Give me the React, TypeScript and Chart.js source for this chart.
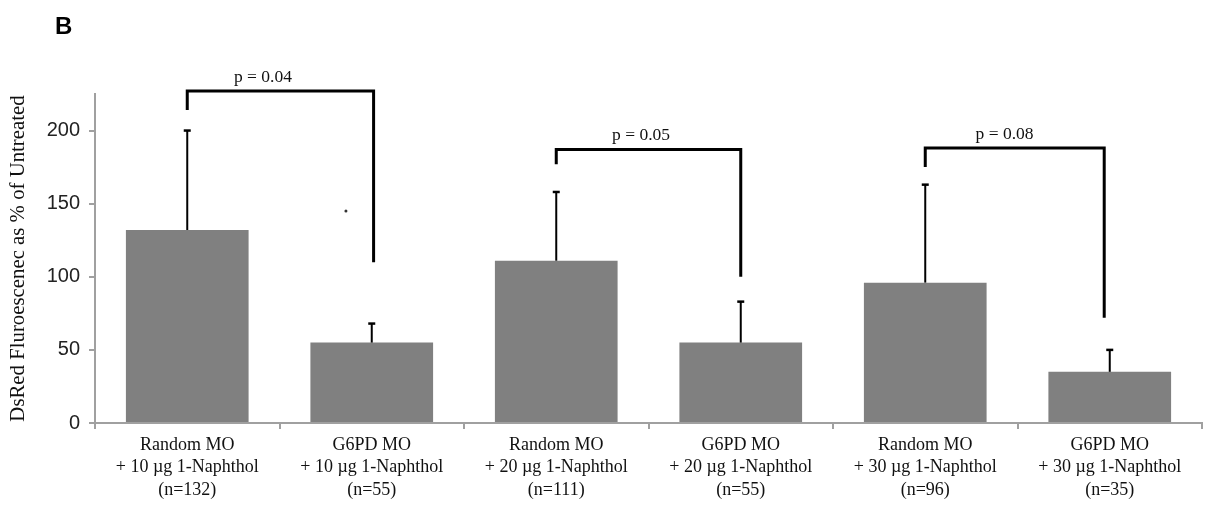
import React, { useEffect, useRef } from 'react';
import { Chart, registerables } from 'chart.js';

Chart.register(...registerables);

// ---- data ----
const categories: string[][] = [
  ['Random MO', '+ 10 µg 1-Naphthol', '(n=132)'],
  ['G6PD MO', '+ 10 µg 1-Naphthol', '(n=55)'],
  ['Random MO', '+ 20 µg 1-Naphthol', '(n=111)'],
  ['G6PD MO', '+ 20 µg 1-Naphthol', '(n=55)'],
  ['Random MO', '+ 30 µg 1-Naphthol', '(n=96)'],
  ['G6PD MO', '+ 30 µg 1-Naphthol', '(n=35)'],
];
const means = [132, 55, 111, 55, 96, 35];
const errorsUp = [68, 13, 47, 28, 67, 15];

const yTickValues = [0, 50, 100, 150, 200];
const yMax = 225;

const bracketFrom = [0, 2, 4];
const bracketTo = [1.01, 3, 4.97];
const bracketTop = [227, 187, 188];
const bracketLeftEnd = [214, 177, 175];
const bracketRightEnd = [110, 100, 72];
const bracketLabels = ['p = 0.04', 'p = 0.05', 'p = 0.08'];
const bracketLabelPos = [0.41, 2.46, 4.43];

const strayPoints = [{ x: 0.86, y: 145 }];

const panelLabel = 'B';
const yTitle = 'DsRed Fluroescenec as % of Untreated';

export default function App() {
  const canvasRef = useRef<HTMLCanvasElement | null>(null);

  useEffect(() => {
    const canvas = canvasRef.current;
    if (!canvas) return;

    const annotations = {
      id: 'annotations',
      afterDatasetsDraw(chart: any) {
        const { ctx, scales } = chart;
        const xs = scales.x;
        const ys = scales.y;
        ctx.save();
        // error bars (upper only)
        ctx.strokeStyle = '#000';
        ctx.lineCap = 'butt';
        means.forEach((m, i) => {
          const x = xs.getPixelForValue(i);
          const yb = ys.getPixelForValue(m);
          const yt = ys.getPixelForValue(m + errorsUp[i]);
          ctx.lineWidth = 2;
          ctx.beginPath();
          ctx.moveTo(x, yb);
          ctx.lineTo(x, yt);
          ctx.stroke();
          ctx.lineWidth = 2.5;
          ctx.beginPath();
          ctx.moveTo(x - 3.5, yt);
          ctx.lineTo(x + 3.5, yt);
          ctx.stroke();
        });
        // brackets
        ctx.lineWidth = 3;
        ctx.lineJoin = 'miter';
        bracketFrom.forEach((f, i) => {
          const x1 = xs.getPixelForValue(f);
          const x2 = xs.getPixelForValue(bracketTo[i]);
          const yt = ys.getPixelForValue(bracketTop[i]);
          const yl = ys.getPixelForValue(bracketLeftEnd[i]);
          const yr = ys.getPixelForValue(bracketRightEnd[i]);
          ctx.beginPath();
          ctx.moveTo(x1, yl);
          ctx.lineTo(x1, yt);
          ctx.lineTo(x2, yt);
          ctx.lineTo(x2, yr);
          ctx.stroke();
          ctx.fillStyle = '#111';
          ctx.font = '17.5px "Liberation Serif", "Times New Roman", serif';
          ctx.textAlign = 'center';
          ctx.textBaseline = 'bottom';
          ctx.fillText(bracketLabels[i], xs.getPixelForValue(bracketLabelPos[i]), yt - 5);
        });
        // stray point
        ctx.fillStyle = '#333';
        strayPoints.forEach((p) => {
          ctx.beginPath();
          ctx.arc(xs.getPixelForValue(p.x), ys.getPixelForValue(p.y), 1.5, 0, Math.PI * 2);
          ctx.fill();
        });
        // panel label
        ctx.fillStyle = '#000';
        ctx.font = 'bold 24px "Liberation Sans", Arial, sans-serif';
        ctx.textAlign = 'left';
        ctx.textBaseline = 'alphabetic';
        ctx.fillText(panelLabel, 55, 34);
        ctx.restore();
      },
    };

    const chart = new Chart(canvas, {
      type: 'bar',
      data: {
        labels: categories,
        datasets: [
          {
            data: means,
            backgroundColor: '#808080',
            borderWidth: 0,
            categoryPercentage: 1,
            barPercentage: 0.665,
          },
        ],
      },
      options: {
        animation: false,
        responsive: true,
        maintainAspectRatio: false,
        layout: { padding: { top: 94, right: 3, left: 0, bottom: 0 } },
        plugins: {
          legend: { display: false },
          tooltip: { enabled: false },
        },
        scales: {
          x: {
            offset: true,
            grid: {
              display: true,
              offset: true,
              drawOnChartArea: false,
              drawTicks: true,
              tickLength: 6,
              color: '#a0a0a0',
              lineWidth: 2,
            },
            border: { display: true, color: '#a0a0a0', width: 2 },
            ticks: {
              autoSkip: false,
              maxRotation: 0,
              minRotation: 0,
              padding: 5,
              color: '#111',
              font: { family: '"Liberation Serif", "Times New Roman", serif', size: 18, lineHeight: 1.24 },
            },
            afterFit: (scale: any) => {
              scale.height = 91;
            },
          },
          y: {
            min: 0,
            max: yMax,
            grid: {
              display: true,
              drawOnChartArea: false,
              drawTicks: true,
              tickLength: 6,
              color: '#a0a0a0',
              lineWidth: 2,
            },
            border: { display: true, color: '#a0a0a0', width: 2 },
            afterBuildTicks: (scale: any) => {
              scale.ticks = yTickValues.map((v) => ({ value: v }));
            },
            ticks: {
              padding: 9,
              color: '#222',
              font: { family: '"Liberation Sans", Arial, sans-serif', size: 20 },
            },
            title: {
              display: true,
              text: yTitle,
              color: '#111',
              padding: { top: 6, bottom: 0 },
              font: { family: '"Liberation Serif", "Times New Roman", serif', size: 20.8 },
            },
            afterFit: (scale: any) => {
              scale.width = 95;
            },
          },
        },
      },
      plugins: [annotations],
    });

    return () => chart.destroy();
  }, []);

  return (
    <div style={{ position: 'absolute', left: 0, top: 0, width: 1205, height: 514, background: '#fff' }}>
      <canvas ref={canvasRef} />
    </div>
  );
}
